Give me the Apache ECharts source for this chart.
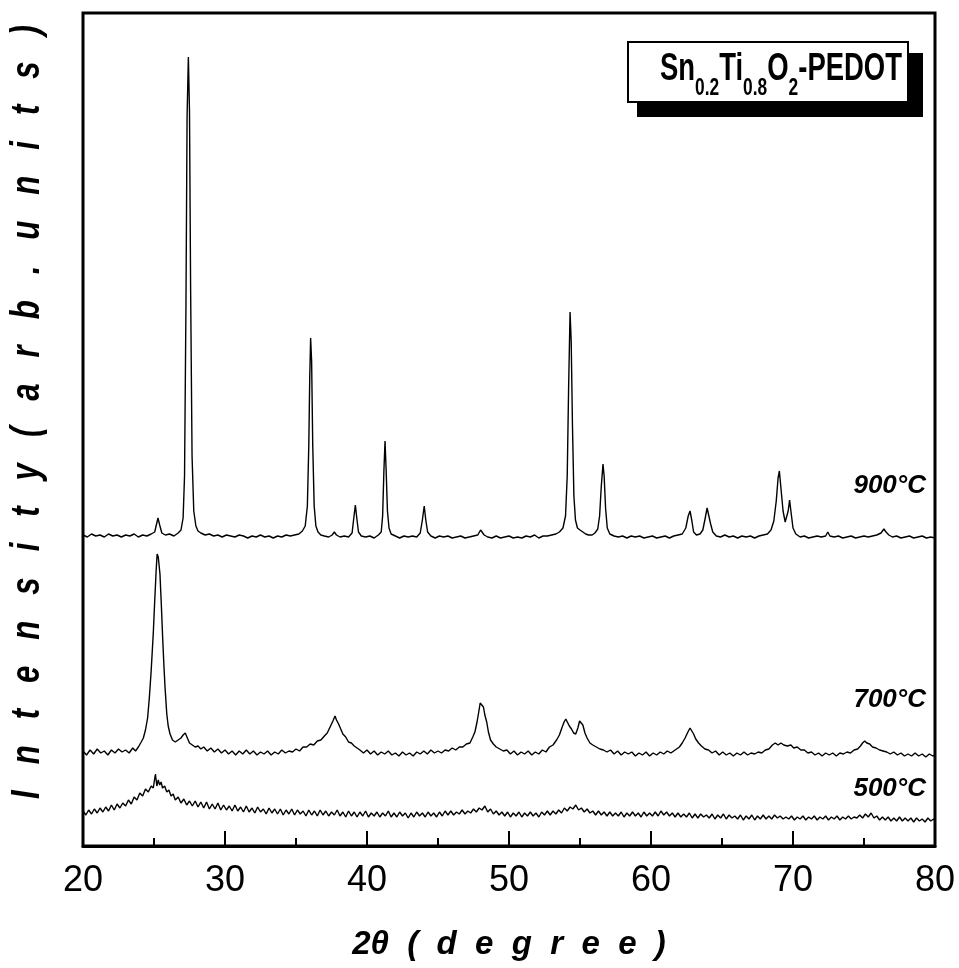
<!DOCTYPE html>
<html>
<head>
<meta charset="utf-8">
<script src="https://cdn.jsdelivr.net/npm/echarts@6/dist/echarts.min.js"></script>
<style>html,body{margin:0;padding:0;background:#fff;}#chart{width:959px;height:968px;}</style>
</head>
<body>
<div id="chart"></div>
<script>
// ---- data (2theta, intensity in arbitrary units) ----
const X_TICKS = [20, 30, 40, 50, 60, 70, 80];
const SERIES_NAMES = ['900°C', '700°C', '500°C'];
const LEGEND_PARTS = [['Sn', 0], ['0.2', 1], ['Ti', 0], ['0.8', 1], ['O', 0], ['2', 1], ['-PEDOT', 0]]; // 1 = subscript
const X_TITLE = '2θ ( d e g r e e )';
const Y_TITLE = 'I n t e n s i t y ( a r b . u n i t s )';

const XRD_900 = [[20.0,311],[20.3,309],[20.6,312],[20.9,310],[21.2,311],[21.5,309],[21.8,312],[22.1,310],[22.4,311],[22.7,309],[23.0,311],[23.3,310],[23.6,312],[23.9,309],[24.2,311],[24.5,310],[24.8,312],[25.05,314],[25.18,322],[25.28,328],[25.4,321],[25.55,313],[25.8,311],[26.1,312],[26.4,310],[26.7,313],[26.9,316],[27.05,328],[27.15,370],[27.25,540],[27.33,730],[27.42,789],[27.5,735],[27.58,555],[27.68,390],[27.8,335],[27.95,320],[28.1,315],[28.3,313],[28.6,311],[28.9,312],[29.2,310],[29.5,311],[29.8,309],[30.1,311],[30.4,310],[30.7,309],[31.0,311],[31.3,310],[31.6,308],[31.9,310],[32.2,309],[32.5,311],[32.8,309],[33.1,310],[33.4,308],[33.7,310],[34.0,309],[34.3,311],[34.6,310],[34.9,311],[35.2,312],[35.45,315],[35.65,320],[35.8,340],[35.9,400],[35.97,470],[36.03,508],[36.1,485],[36.18,400],[36.28,340],[36.4,320],[36.55,314],[36.75,311],[37.0,310],[37.3,309],[37.55,311],[37.7,314],[37.85,311],[38.1,309],[38.4,310],[38.7,309],[38.95,313],[39.07,328],[39.18,341],[39.28,328],[39.4,314],[39.6,310],[39.9,309],[40.2,310],[40.5,308],[40.8,311],[41.0,314],[41.1,330],[41.19,375],[41.27,405],[41.35,375],[41.44,335],[41.55,318],[41.7,312],[42.0,310],[42.3,308],[42.6,310],[42.9,309],[43.2,310],[43.5,309],[43.75,313],[43.9,326],[44.03,340],[44.14,326],[44.27,314],[44.5,310],[44.8,308],[45.1,310],[45.4,309],[45.7,310],[46.0,308],[46.3,309],[46.6,310],[46.9,308],[47.2,309],[47.5,310],[47.8,311],[48.0,316],[48.1,317],[48.25,311],[48.5,309],[48.8,308],[49.1,310],[49.4,308],[49.7,309],[50.0,310],[50.3,308],[50.6,309],[50.9,308],[51.2,310],[51.5,309],[51.8,311],[52.1,308],[52.4,310],[52.7,310],[53.0,311],[53.3,312],[53.55,314],[53.8,318],[53.98,330],[54.1,370],[54.2,460],[54.3,534],[54.38,505],[54.47,420],[54.57,350],[54.68,326],[54.82,318],[55.0,316],[55.2,314],[55.4,312],[55.6,311],[55.85,311],[56.05,313],[56.25,317],[56.38,330],[56.5,360],[56.62,382],[56.7,370],[56.8,338],[56.92,318],[57.1,312],[57.4,310],[57.7,309],[58.0,310],[58.3,308],[58.6,310],[58.9,309],[59.2,310],[59.5,308],[59.8,309],[60.1,310],[60.4,308],[60.7,309],[61.0,310],[61.3,308],[61.6,310],[61.9,311],[62.2,312],[62.45,318],[62.62,330],[62.75,335],[62.88,325],[63.0,314],[63.2,311],[63.45,312],[63.65,316],[63.82,328],[63.95,338],[64.08,340],[64.2,322],[64.35,314],[64.6,310],[64.9,309],[65.2,311],[65.5,309],[65.8,310],[66.1,308],[66.4,310],[66.7,309],[67.0,310],[67.3,308],[67.6,310],[67.9,311],[68.2,312],[68.45,316],[68.65,325],[68.82,345],[68.95,368],[69.04,375],[69.15,358],[69.3,335],[69.45,324],[69.56,323],[69.66,335],[69.76,346],[69.86,334],[70.0,318],[70.2,312],[70.5,309],[70.8,310],[71.1,308],[71.4,309],[71.7,310],[72.0,309],[72.3,310],[72.45,314],[72.6,310],[72.9,309],[73.2,310],[73.5,308],[73.8,309],[74.1,310],[74.4,308],[74.7,309],[75.0,310],[75.3,309],[75.6,310],[75.9,311],[76.2,313],[76.4,317],[76.55,314],[76.75,311],[77.0,309],[77.3,310],[77.6,308],[77.9,309],[78.2,310],[78.5,308],[78.8,309],[79.1,310],[79.4,308],[79.7,309],[80.0,308]];

const XRD_700 = [[20.0,95],[20.25,91],[20.5,96],[20.75,92],[21.0,97],[21.25,93],[21.5,95],[21.75,91],[22.0,96],[22.25,93],[22.5,97],[22.75,94],[23.0,96],[23.25,93],[23.5,98],[23.7,95],[23.9,99],[24.1,104],[24.25,108],[24.4,116],[24.55,128],[24.67,148],[24.8,175],[24.95,213],[25.05,245],[25.15,275],[25.22,292],[25.3,289],[25.42,272],[25.52,240],[25.62,205],[25.7,180],[25.78,158],[25.9,132],[26.0,120],[26.13,112],[26.3,106],[26.5,104],[26.7,106],[26.9,108],[27.05,111],[27.2,113],[27.35,108],[27.5,103],[27.7,101],[27.9,99],[28.1,100],[28.3,97],[28.5,99],[28.75,95],[29.0,98],[29.25,94],[29.5,97],[29.75,93],[30.0,96],[30.25,92],[30.5,95],[30.75,91],[31.0,95],[31.25,92],[31.5,96],[31.75,92],[32.0,95],[32.25,91],[32.5,94],[32.75,92],[33.0,95],[33.25,91],[33.5,94],[33.75,92],[34.0,96],[34.25,93],[34.5,95],[34.75,94],[35.0,97],[35.25,95],[35.5,99],[35.75,99],[36.0,102],[36.25,101],[36.5,105],[36.75,106],[37.0,110],[37.2,113],[37.4,119],[37.6,125],[37.75,130],[37.85,126],[38.0,122],[38.15,117],[38.3,112],[38.5,109],[38.7,104],[38.9,103],[39.1,100],[39.3,98],[39.5,96],[39.75,93],[40.0,96],[40.25,92],[40.5,95],[40.75,91],[41.0,94],[41.25,92],[41.5,95],[41.75,91],[42.0,93],[42.25,90],[42.5,94],[42.75,91],[43.0,93],[43.25,90],[43.5,94],[43.75,92],[44.0,95],[44.25,92],[44.5,96],[44.75,93],[45.0,95],[45.25,93],[45.5,96],[45.75,95],[46.0,98],[46.25,96],[46.5,99],[46.75,99],[47.0,102],[47.25,103],[47.45,109],[47.6,114],[47.75,124],[47.88,135],[47.97,143],[48.08,142],[48.2,139],[48.3,131],[48.43,124],[48.55,114],[48.7,106],[48.9,102],[49.1,99],[49.35,97],[49.6,95],[49.85,96],[50.1,92],[50.35,95],[50.6,91],[50.85,94],[51.1,92],[51.35,95],[51.6,91],[51.85,94],[52.1,92],[52.35,96],[52.6,94],[52.85,99],[53.1,101],[53.35,106],[53.55,111],[53.72,118],[53.88,124],[54.0,127],[54.12,125],[54.25,120],[54.4,117],[54.55,113],[54.7,112],[54.85,118],[54.97,125],[55.07,127],[55.2,121],[55.35,113],[55.5,108],[55.7,103],[55.9,101],[56.15,99],[56.4,97],[56.65,96],[56.9,94],[57.15,96],[57.4,92],[57.65,95],[57.9,91],[58.15,94],[58.4,92],[58.65,94],[58.9,90],[59.15,93],[59.4,91],[59.65,94],[59.9,90],[60.15,93],[60.4,91],[60.65,94],[60.9,92],[61.15,95],[61.4,93],[61.6,95],[61.8,97],[62.0,99],[62.2,103],[62.4,108],[62.6,114],[62.75,118],[62.85,117],[63.0,112],[63.15,107],[63.35,103],[63.55,100],[63.8,97],[64.05,96],[64.3,93],[64.55,95],[64.8,91],[65.05,94],[65.3,91],[65.55,93],[65.8,90],[66.05,93],[66.3,91],[66.55,94],[66.8,91],[67.05,93],[67.3,92],[67.55,94],[67.8,93],[68.05,96],[68.3,97],[68.55,101],[68.75,103],[68.95,101],[69.15,103],[69.35,101],[69.6,100],[69.85,101],[70.05,98],[70.3,99],[70.55,96],[70.8,96],[71.05,93],[71.3,94],[71.55,91],[71.8,93],[72.05,90],[72.3,93],[72.55,91],[72.8,93],[73.05,90],[73.3,93],[73.55,92],[73.8,94],[74.05,93],[74.3,96],[74.55,97],[74.75,100],[74.9,103],[75.05,105],[75.2,103],[75.4,102],[75.6,99],[75.85,98],[76.1,96],[76.35,95],[76.6,94],[76.85,92],[77.1,94],[77.35,91],[77.6,93],[77.85,90],[78.1,92],[78.35,90],[78.6,93],[78.85,90],[79.1,92],[79.35,89],[79.6,92],[79.85,90],[80.0,91]];

const XRD_500 = [[20.0,35],[20.2,31],[20.4,36],[20.6,32],[20.8,37],[21.0,33],[21.2,38],[21.4,34],[21.6,39],[21.8,35],[22.0,41],[22.2,36],[22.4,42],[22.6,38],[22.8,43],[23.0,40],[23.2,46],[23.4,42],[23.6,49],[23.8,46],[24.0,53],[24.2,50],[24.4,57],[24.6,54],[24.8,60],[24.95,58],[25.1,72],[25.2,60],[25.3,66],[25.4,61],[25.5,64],[25.6,58],[25.75,60],[25.9,54],[26.05,56],[26.2,50],[26.35,52],[26.5,46],[26.7,49],[26.9,43],[27.1,47],[27.3,41],[27.5,45],[27.7,40],[27.9,45],[28.1,39],[28.3,44],[28.5,38],[28.7,44],[28.9,37],[29.1,42],[29.3,37],[29.5,43],[29.7,36],[29.9,41],[30.1,36],[30.3,40],[30.5,35],[30.7,41],[30.9,35],[31.1,39],[31.3,34],[31.5,40],[31.7,34],[31.9,38],[32.1,33],[32.3,39],[32.5,34],[32.7,37],[32.9,32],[33.1,38],[33.3,33],[33.5,37],[33.7,32],[33.9,37],[34.1,31],[34.3,36],[34.5,32],[34.7,37],[34.9,31],[35.1,36],[35.3,32],[35.5,35],[35.7,30],[35.9,36],[36.1,31],[36.3,35],[36.5,30],[36.7,36],[36.9,31],[37.1,35],[37.3,30],[37.5,34],[37.7,31],[37.9,36],[38.1,30],[38.3,34],[38.5,29],[38.7,35],[38.9,30],[39.1,34],[39.3,29],[39.5,34],[39.7,30],[39.9,35],[40.1,29],[40.3,33],[40.5,30],[40.7,34],[40.9,29],[41.1,33],[41.3,30],[41.5,35],[41.7,29],[41.9,33],[42.1,29],[42.3,34],[42.5,30],[42.7,33],[42.9,28],[43.1,33],[43.3,29],[43.5,34],[43.7,30],[43.9,33],[44.1,29],[44.3,34],[44.5,30],[44.7,33],[44.9,29],[45.1,34],[45.3,30],[45.5,35],[45.7,31],[45.9,35],[46.1,31],[46.3,34],[46.5,32],[46.7,36],[46.9,32],[47.1,35],[47.3,33],[47.5,37],[47.7,34],[47.9,38],[48.1,36],[48.3,40],[48.5,34],[48.7,37],[48.9,32],[49.1,35],[49.3,31],[49.5,34],[49.7,30],[49.9,34],[50.1,29],[50.3,33],[50.5,30],[50.7,34],[50.9,29],[51.1,33],[51.3,30],[51.5,34],[51.7,30],[51.9,33],[52.1,29],[52.3,34],[52.5,31],[52.7,35],[52.9,31],[53.1,35],[53.3,32],[53.5,36],[53.7,33],[53.9,38],[54.1,35],[54.3,39],[54.5,37],[54.7,41],[54.9,36],[55.1,38],[55.3,34],[55.5,37],[55.7,33],[55.9,35],[56.1,31],[56.3,35],[56.5,31],[56.7,34],[56.9,30],[57.1,34],[57.3,30],[57.5,33],[57.7,30],[57.9,34],[58.1,29],[58.3,33],[58.5,30],[58.7,34],[58.9,30],[59.1,33],[59.3,29],[59.5,34],[59.7,30],[59.9,33],[60.1,30],[60.3,34],[60.5,30],[60.7,35],[60.9,31],[61.1,34],[61.3,30],[61.5,33],[61.7,29],[61.9,33],[62.1,29],[62.3,32],[62.5,29],[62.7,33],[62.9,28],[63.1,32],[63.3,28],[63.5,32],[63.7,29],[63.9,31],[64.1,28],[64.3,32],[64.5,27],[64.7,31],[64.9,28],[65.1,32],[65.3,27],[65.5,31],[65.7,28],[65.9,30],[66.1,27],[66.3,31],[66.5,26],[66.7,30],[66.9,27],[67.1,31],[67.3,26],[67.5,30],[67.7,27],[67.9,31],[68.1,27],[68.3,30],[68.5,27],[68.7,31],[68.9,28],[69.1,30],[69.3,27],[69.5,29],[69.7,27],[69.9,30],[70.1,26],[70.3,29],[70.5,27],[70.7,30],[70.9,26],[71.1,29],[71.3,27],[71.5,30],[71.7,26],[71.9,29],[72.1,27],[72.3,30],[72.5,26],[72.7,29],[72.9,27],[73.1,30],[73.3,26],[73.5,29],[73.7,27],[73.9,30],[74.1,27],[74.3,29],[74.5,28],[74.7,31],[74.9,28],[75.1,32],[75.3,29],[75.5,33],[75.7,28],[75.9,30],[76.1,26],[76.3,29],[76.5,26],[76.7,29],[76.9,25],[77.1,28],[77.3,25],[77.5,29],[77.7,25],[77.9,28],[78.1,25],[78.3,28],[78.5,24],[78.7,28],[78.9,25],[79.1,27],[79.3,24],[79.5,28],[79.7,25],[79.9,27],[80.0,25]];

// ---- chart ----
const chart = echarts.init(document.getElementById('chart'), null, {renderer: 'canvas'});
const spaced = (s, n) => s.split(' ').join(' '.repeat(n));
const FAMILY = '"Liberation Sans", Arial, sans-serif';

// legend box text: measured pieces with real subscripts
const BIG = 38, SUB = 24;
const mctx = document.createElement('canvas').getContext('2d');
let cursor = 0;
const legendChildren = LEGEND_PARTS.map(([t, isSub]) => {
  const fs = isSub ? SUB : BIG;
  mctx.font = 'bold ' + fs + 'px ' + FAMILY;
  const el = {type: 'text', x: cursor, y: isSub ? 40 : 22, z: 110, zlevel: 0,
    style: {text: t, fill: '#000', fontSize: fs, fontWeight: 'bold', fontFamily: FAMILY,
      align: 'left', verticalAlign: 'middle', textAlign: 'left', textVerticalAlign: 'middle'}};
  cursor += mctx.measureText(t).width;
  return el;
});

const tempLabel = (t, y) => ({type: 'text', x: 926, y: y, z: 102,
  style: {text: t, fill: '#000', fontSize: 26, fontWeight: 'bold', fontStyle: 'italic', fontFamily: FAMILY,
    align: 'right', verticalAlign: 'middle', textAlign: 'right', textVerticalAlign: 'middle'}});

const option = {
  animation: false,
  backgroundColor: '#fff',
  grid: {left: 83, right: 24, top: 13, bottom: 122, show: true, borderColor: '#000', borderWidth: 3, backgroundColor: 'transparent'},
  xAxis: {
    type: 'value', min: X_TICKS[0], max: X_TICKS[X_TICKS.length - 1], interval: 10,
    axisLine: {show: true, lineStyle: {color: '#000', width: 3}},
    axisTick: {show: true, inside: true, length: 15, lineStyle: {color: '#000', width: 2}},
    minorTick: {show: true, splitNumber: 2, length: 8, lineStyle: {color: '#000', width: 2}},
    splitLine: {show: false},
    axisLabel: {color: '#000', fontSize: 36, fontFamily: '"Liberation Sans Narrow", "Arial Narrow", "Liberation Sans", sans-serif', margin: 17},
    name: spaced(X_TITLE, 2), nameLocation: 'middle', nameGap: 82,
    nameTextStyle: {color: '#000', fontSize: 33, fontWeight: 'bold', fontStyle: 'italic', fontFamily: FAMILY}
  },
  yAxis: {
    type: 'value', min: 0, max: 833,
    axisLine: {show: false}, axisTick: {show: false}, axisLabel: {show: false}, splitLine: {show: false}
  },
  series: [XRD_900, XRD_700, XRD_500].map((d, i) => ({
    name: SERIES_NAMES[i], type: 'line', data: d, showSymbol: false, symbol: 'none',
    lineStyle: {color: '#000', width: 1.4}, z: 3
  })),
  graphic: [
    {type: 'rect', shape: {x: 637, y: 53, width: 286, height: 64}, style: {fill: '#000'}, z: 100},
    {type: 'rect', shape: {x: 628, y: 42, width: 280, height: 60}, style: {fill: '#fff', stroke: '#000', lineWidth: 2}, z: 101},
    {type: 'group', x: 660, y: 48, scaleX: 242 / cursor, z: 110, children: legendChildren},
    {type: 'text', x: 28, y: 412, rotation: Math.PI / 2, scaleX: 0.76, z: 102,
      style: {text: spaced(Y_TITLE, 3), fill: '#000', fontSize: 41, fontWeight: 'bold', fontStyle: 'italic', fontFamily: FAMILY, align: 'center', verticalAlign: 'middle', textAlign: 'center', textVerticalAlign: 'middle'}},
    tempLabel(SERIES_NAMES[0], 486),
    tempLabel(SERIES_NAMES[1], 700),
    tempLabel(SERIES_NAMES[2], 789)
  ]
};
chart.setOption(option);
</script>
</body>
</html>
